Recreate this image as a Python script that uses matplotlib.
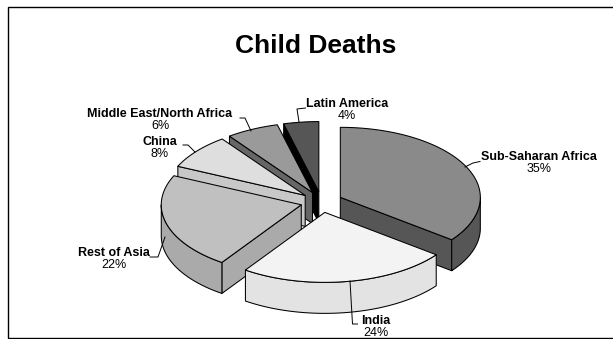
import numpy as np
import matplotlib
matplotlib.use("Agg")
import matplotlib.pyplot as plt
from matplotlib.patches import Polygon, Rectangle

# Share of child deaths by region, clockwise from twelve o'clock
regions = ["Sub-Saharan Africa", "India", "Rest of Asia", "China",
           "Middle East/North Africa", "Latin America"]
shares = [35, 24, 22, 8, 6, 4]
top_colors = ["#8a8a8a", "#f3f3f3", "#c0c0c0", "#dedede", "#9a9a9a", "#565656"]
outer_colors = ["#565656", "#e3e3e3", "#aaaaaa", "#c8c8c8", "#666666", "#000000"]
edge_colors = ["#565656", "#e3e3e3", "#aaaaaa", "#c8c8c8", "#666666", "#000000"]

label_x = [539, 375.5, 114, 160, 160, 347]
label_y = [157, 321, 253, 142, 114, 104]
leaders = [
    [(480, 161.5), (473, 163), (465, 167)],
    [(350, 281), (352.5, 324), (357.5, 324)],
    [(150, 257), (158, 257), (165, 237)],
    [(183, 145), (188, 145), (195, 152)],
    [(240, 118), (245, 118), (251, 131)],
    [(305.5, 108), (297, 109), (299, 122)],
]

# Pie geometry, in figure pixels
CX, CY = 321.5, 202.0
RX, RY = 140.0, 70.0
DEPTH = 31.0
EXPLODE = 0.15
LW = 0.75

fig = plt.figure(figsize=(6.13, 3.39), dpi=100)
ax = fig.add_axes([0, 0, 1, 1])
ax.set_xlim(0, 613)
ax.set_ylim(339, 0)
ax.axis("off")

# Chart frame; its right side runs past the edge of the image
ax.add_patch(Rectangle((8, 6.5), 620, 331.5, fc="white", ec="black", lw=1.0))
ax.text(316, 46, "Child Deaths", ha="center", va="center",
        fontsize=19, fontweight="bold", family="Liberation Sans")


def rim(apex, a0, a1):
    """Points along the elliptical rim, angles in degrees clockwise from the top."""
    t = np.radians(np.linspace(a0, a1, max(int(abs(a1 - a0)) * 2, 2)))
    return np.column_stack([apex[0] + RX * np.sin(t), apex[1] - RY * np.cos(t)])


def face(points, color, z):
    ax.add_patch(Polygon(points, closed=True, fc=color, ec="black", lw=LW,
                         joinstyle="round", zorder=z))


fractions = np.array(shares) / sum(shares) * 360
starts = np.concatenate([[0], np.cumsum(fractions)[:-1]])
ends = starts + fractions
down = np.array([0, DEPTH])

# Back slices first, so nearer ones overlap them
order = [5, 4, 3, 2, 0, 1]
for z, i in enumerate(order):
    s, e = starts[i], ends[i]
    mid = np.radians((s + e) / 2)
    apex = np.array([CX + EXPLODE * RX * np.sin(mid), CY - EXPLODE * RY * np.cos(mid)])
    base = z * 10 + 2
    # Cut faces that turn towards the viewer
    if s >= 180:
        p = rim(apex, s, s)[0]
        face([apex, p, p + down, apex + down], edge_colors[i], base)
    if e <= 180:
        p = rim(apex, e, e)[0]
        face([apex, p, p + down, apex + down], edge_colors[i], base)
    # Curved outer wall on the near half of the rim
    w0, w1 = max(s, 90), min(e, 270)
    if w1 > w0:
        arc = rim(apex, w0, w1)
        face(np.vstack([arc, arc[::-1] + down]), outer_colors[i], base + 1)
    # Top surface
    face(np.vstack([[apex], rim(apex, s, e)]), top_colors[i], base + 2)

for name, share, x, y, pts in zip(regions, shares, label_x, label_y, leaders):
    ax.text(x, y, name, ha="center", va="center", fontsize=9, fontweight="bold",
            family="Liberation Sans", zorder=100)
    ax.text(x, y + 12, f"{share}%", ha="center", va="center", fontsize=9,
            family="Liberation Sans", zorder=100)
    ax.plot(*zip(*pts), color="black", lw=0.7, zorder=100)

fig.savefig("out.png", dpi=100)
